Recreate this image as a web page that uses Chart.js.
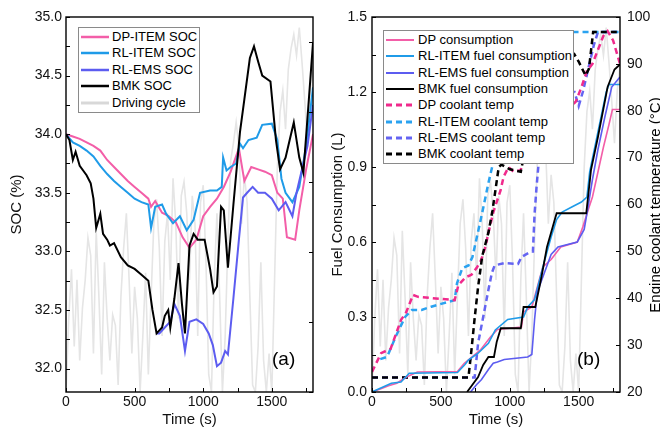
<!DOCTYPE html>
<html>
<head>
<meta charset="utf-8">
<script src="https://cdn.jsdelivr.net/npm/chart.js@4.4.1/dist/chart.umd.min.js"></script>
<style>
body { margin: 0; background: #fff; font-family: "Liberation Sans", Arial, sans-serif; }
#wrap { position: relative; width: 660px; height: 427px; overflow: hidden; }
#cA { position: absolute; left: 0; top: 0; }
#cB { position: absolute; left: 322px; top: 0; }
.legend { position: absolute; box-sizing: border-box; background: #fff; border: 1px solid #8a8a8a; font-size: 13px; color: #000; }
.legend .row { position: absolute; left: 0; height: 16px; line-height: 16px; white-space: nowrap; }
.legend svg { position: absolute; left: 1px; top: 0; }
.legend span { position: absolute; top: 0; }
.tag { position: absolute; font-size: 19px; line-height: 19px; color: #000; }
#rtitle { position: absolute; left: 525px; top: 196px; width: 260px; height: 18px; line-height: 18px; font-size: 15px; text-align: center; transform: rotate(-90deg); color: #000; }
</style>
</head>
<body>
<div id="wrap">
  <canvas id="cA" width="322" height="427"></canvas>
  <canvas id="cB" width="338" height="427"></canvas>
  <div id="legA" class="legend" style="left:78px;top:27px;width:122px;height:86px;"></div>
  <div id="legB" class="legend" style="left:383px;top:30px;width:191px;height:134px;"></div>
  <div class="tag" style="left:272px;top:349px;">(a)</div>
  <div class="tag" style="left:577px;top:349px;">(b)</div>
  <div id="rtitle">Engine coolant temperature (°C)</div>
</div>
<script>
// ---------- axis ticks ----------
const timeTicks = [0, 500, 1000, 1500];
const socTicks = [32.0, 32.5, 33.0, 33.5, 34.0, 34.5, 35.0];
const fuelTicks = [0.0, 0.3, 0.6, 0.9, 1.2, 1.5];
const tempTicks = [20, 30, 40, 50, 60, 70, 80, 90, 100];

// ---------- driving cycle (speed, hidden axis), every 20 s ----------
const tCycle = [0,20,40,60,80,100,120,140,160,180,200,220,240,260,280,300,320,340,360,380,400,420,440,460,480,500,520,540,560,580,600,620,640,660,680,700,720,740,760,780,800,820,840,860,880,900,920,940,960,980,1000,1020,1040,1060,1080,1100,1120,1140,1160,1180,1200,1220,1240,1260,1280,1300,1320,1340,1360,1380,1400,1420,1440,1460,1480,1500,1520,1540,1560,1580,1600,1620,1640,1660,1680,1700,1720,1740,1760,1780,1800];
const speedCycle = [0,21,35,13,32,9,24,32,44,39,11,46,27,5,37,21,9,22,19,2,27,41,51,32,11,30,21,0,16,34,5,27,48,55,41,16,43,51,32,61,48,21,56,60,51,32,56,48,16,54,59,37,5,0,32,51,27,0,16,43,66,71,77,70,48,62,54,27,2,0,13,37,9,0,11,0,32,64,80,86,75,92,98,102,96,104,94,83,71,86,93];

// ---------- panel (a): SOC (%) ----------
const tSocDp = [0,50,100,150,200,250,300,350,400,450,500,550,600,620,650,700,750,800,850,900,950,1000,1050,1100,1150,1200,1260,1300,1350,1400,1450,1500,1540,1580,1610,1670,1700,1750,1800];
const socDp = [34.0,33.98,33.96,33.93,33.9,33.86,33.78,33.72,33.66,33.6,33.55,33.5,33.45,33.38,33.43,33.33,33.3,33.25,33.12,33.03,33.1,33.3,33.38,33.45,33.55,33.68,33.88,33.6,33.72,33.7,33.68,33.65,33.5,33.45,33.12,33.1,33.35,33.7,34.0];

const tSocItem = [0,50,100,150,200,250,300,350,400,450,500,550,600,620,650,700,730,780,830,880,930,977,1050,1100,1135,1145,1170,1200,1240,1268,1290,1330,1390,1430,1500,1540,1570,1600,1650,1700,1750,1800];
const socItem = [34.0,33.93,33.9,33.86,33.81,33.73,33.66,33.6,33.55,33.5,33.45,33.42,33.4,33.2,33.38,33.4,33.32,33.24,33.3,33.18,33.27,33.5,33.52,33.52,33.55,33.8,33.69,33.72,33.75,33.92,33.88,33.95,33.97,34.08,34.09,33.95,33.62,33.5,33.42,33.55,33.9,34.4];

const tSocEms = [660,680,720,760,790,830,867,900,950,1000,1040,1070,1100,1130,1160,1180,1220,1260,1290,1320,1360,1400,1450,1500,1550,1600,1650,1680,1720,1760,1800];
const socEms = [32.3,32.3,32.35,32.4,32.55,32.45,32.15,32.4,32.42,32.38,32.3,32.2,32.02,32.05,32.15,32.12,32.6,33.1,33.46,33.5,33.55,33.5,33.5,33.45,33.35,33.42,33.3,33.5,33.7,33.9,34.25];

const tSocBmk = [0,25,50,70,100,150,180,200,220,250,270,300,320,350,400,450,500,550,600,630,660,700,720,745,760,790,820,845,867,900,930,960,1010,1050,1075,1100,1130,1150,1180,1220,1268,1300,1340,1370,1400,1430,1490,1530,1560,1600,1630,1660,1700,1730,1770,1800];
const socBmk = [34.0,33.95,33.78,33.85,33.73,33.65,33.58,33.45,33.2,33.32,33.15,33.1,33.05,33.07,32.95,32.88,32.85,32.8,32.75,32.5,32.3,32.35,32.45,32.5,32.35,32.6,32.9,32.55,32.3,33.05,33.15,33.1,33.1,32.85,32.65,32.7,33.38,33.35,32.86,33.4,34.02,34.3,34.65,34.75,34.62,34.5,34.45,33.95,33.7,33.8,33.95,34.1,33.8,33.67,34.3,34.78];

// ---------- panel (b): fuel consumption (L) ----------
const tFuelDp = [0,60,120,180,250,330,620,670,790,860,910,1085,1100,1160,1200,1240,1300,1370,1490,1530,1570,1600,1640,1680,1720,1745,1800];
const fuelDp = [0,0.012,0.025,0.035,0.06,0.08,0.082,0.115,0.17,0.22,0.25,0.26,0.32,0.34,0.42,0.5,0.53,0.58,0.6,0.66,0.73,0.78,0.88,0.98,1.07,1.13,1.13];

const tFuelItem = [0,60,140,210,245,270,620,675,700,770,845,895,985,1100,1130,1180,1250,1300,1340,1380,1450,1520,1560,1580,1640,1700,1720,1800];
const fuelItem = [0,0.015,0.035,0.04,0.06,0.075,0.078,0.11,0.128,0.155,0.195,0.248,0.29,0.3,0.34,0.37,0.52,0.62,0.69,0.72,0.74,0.76,0.78,0.88,1.04,1.2,1.23,1.23];

const tFuelEms = [715,760,795,845,880,910,960,1130,1160,1180,1200,1250,1300,1350,1490,1540,1565,1600,1640,1690,1740,1800];
const fuelEms = [0,0.03,0.05,0.09,0.115,0.12,0.13,0.14,0.15,0.29,0.4,0.475,0.55,0.58,0.6,0.65,0.73,0.85,0.97,1.1,1.22,1.26];

const tFuelBmk = [690,770,807,845,885,905,935,1080,1100,1185,1230,1270,1340,1555,1590,1640,1710,1760,1800];
const fuelBmk = [0,0.06,0.108,0.14,0.14,0.2,0.255,0.255,0.34,0.34,0.46,0.58,0.715,0.715,0.89,1.02,1.22,1.29,1.31];

// ---------- panel (b): engine coolant temperature (°C) ----------
const tCoolDp = [0,66,135,211,248,298,335,600,627,680,722,760,790,824,845,882,933,955,991,1027,1079,1100,1300,1480,1520,1560,1600,1640,1680,1710,1750,1800];
const coolDp = [24.3,28.3,29.2,35.4,37,40.7,40.3,39.6,42.8,44.5,45,46.5,48,51,54,58.5,63,65.9,68,67,67.3,70,76,82,85,88.5,90,93,96,97,95,90];

const tCoolItem = [60,110,175,240,290,360,430,600,617,655,700,729,773,809,845,875,910,960,1800];
const coolItem = [27,27.5,32,36,37.5,37.5,38.2,39.6,43.2,46.4,47,48.8,54.6,59.5,64.6,68.4,80,96.8,96.8];

const tCoolEms = [0,745,770,807,845,870,890,960,1060,1085,1155,1168,1180,1195,1210,1300,1400,1470,1500,1530,1570,1610,1640,1800];
const coolEms = [23.1,23.1,30.4,36,41.8,45.4,47,47.5,47.3,48.8,50,50,58,64,69,78,84,84,81,84,89,94,96.8,96.8];

const tCoolBmk = [0,700,722,746,770,800,845,875,920,940,1000,1080,1100,1300,1470,1500,1550,1575,1605,1800];
const coolBmk = [23.1,23.1,29,36,42.4,49,54,58.8,68,68.5,67.5,67,70,85,92,90.5,87.5,89,96.8,96.8];

// ---------- colours ----------
const cPink = '#f35ea8';
const cBlue = '#1f9be8';
const cPurple = '#5c5cf0';
const cBlack = '#000000';
const cGrey = '#e5e5e5';
const cMagenta = '#f02a8c';
const cBlueDash = '#2aa2f0';
const cPurpleDash = '#6464f2';

Chart.defaults.font.family = "'Liberation Sans', Arial, sans-serif";
Chart.defaults.color = '#111';

function pts(t, v) {
    return t.map((x, i) => ({ x: x, y: v[i] }));
}

function series(label, t, v, color, extra) {
    return Object.assign({
        label: label,
        data: pts(t, v),
        borderColor: color,
        backgroundColor: color,
        borderWidth: 2,
        pointRadius: 0,
        tension: 0,
        fill: false
    }, extra || {});
}

// frame round the plot plus inward tick marks, taken from the chart scales
const frameTicks = {
    id: 'frameTicks',
    afterDatasetsDraw(chart, args, opts) {
        const { ctx, chartArea: a } = chart;
        ctx.save();
        ctx.strokeStyle = '#000';
        ctx.lineWidth = 1;
        (opts.marks || []).forEach(m => {
            const s = chart.scales[m.axis];
            const first = Math.ceil(s.min / m.step - 1e-6);
            const last = Math.floor(s.max / m.step + 1e-6);
            for (let k = first; k <= last; k++) {
                const p = Math.round(s.getPixelForValue(k * m.step)) + 0.5;
                ctx.beginPath();
                if (m.side === 'bottom') { ctx.moveTo(p, a.bottom); ctx.lineTo(p, a.bottom - 4); }
                else if (m.side === 'left') { ctx.moveTo(a.left, p); ctx.lineTo(a.left + 4, p); }
                else { ctx.moveTo(a.right, p); ctx.lineTo(a.right - 4, p); }
                ctx.stroke();
            }
        });
        ctx.lineWidth = 1.4;
        ctx.strokeRect(a.left, a.top, a.right - a.left, a.bottom - a.top);
        ctx.restore();
    }
};

function fixedTicks(list) {
    return function (scale) {
        scale.ticks = list.map(v => ({ value: v }));
    };
}

const xAxis = {
    type: 'linear',
    min: 0,
    max: 1800,
    afterBuildTicks: fixedTicks(timeTicks),
    ticks: { font: { size: 14 }, padding: 2, maxRotation: 0, callback: v => String(v) },
    grid: { display: false, drawTicks: false },
    border: { display: false },
    title: { display: true, text: 'Time (s)', font: { size: 15, lineHeight: 1 }, padding: 0 },
    afterFit: s => { s.height = 35; }
};

// ---------- chart (a) ----------
new Chart(document.getElementById('cA'), {
    type: 'line',
    data: {
        datasets: [
            series('BMK SOC', tSocBmk, socBmk, cBlack, { order: 1 }),
            series('RL-EMS SOC', tSocEms, socEms, cPurple, { order: 2 }),
            series('RL-ITEM SOC', tSocItem, socItem, cBlue, { order: 3 }),
            series('DP-ITEM SOC', tSocDp, socDp, cPink, { order: 4 }),
            series('Driving cycle', tCycle, speedCycle, cGrey, { order: 9, borderWidth: 1.6, yAxisID: 'ySpeed' })
        ]
    },
    options: {
        responsive: false,
        animation: false,
        events: [],
        layout: { padding: { top: 17, right: 9, left: 0, bottom: 0 } },
        plugins: {
            legend: { display: false },
            tooltip: { enabled: false },
            frameTicks: {
                marks: [
                    { axis: 'x', step: 250, side: 'bottom' },
                    { axis: 'y', step: 0.25, side: 'left' },
                    { axis: 'ySpeed', step: 20, side: 'right' }
                ]
            }
        },
        scales: {
            x: xAxis,
            y: {
                min: 31.8,
                max: 35.0,
                afterBuildTicks: fixedTicks(socTicks),
                ticks: { font: { size: 14 }, padding: 4, callback: v => v.toFixed(1) },
                grid: { display: false, drawTicks: false },
                border: { display: false },
                title: { display: true, text: 'SOC (%)', font: { size: 15 }, padding: { top: 8, bottom: 0 } },
                afterFit: s => { s.width = 66; }
            },
            ySpeed: { display: false, min: 0, max: 107 }
        }
    },
    plugins: [frameTicks]
});

// ---------- chart (b) ----------
const dash = { borderDash: [6, 4], borderWidth: 2.5, yAxisID: 'yT' };
new Chart(document.getElementById('cB'), {
    type: 'line',
    data: {
        datasets: [
            series('BMK fuel consumption', tFuelBmk, fuelBmk, cBlack, { order: 1, borderWidth: 1.8 }),
            series('RL-EMS fuel consumption', tFuelEms, fuelEms, cPurple, { order: 2, borderWidth: 1.6 }),
            series('RL-ITEM fuel consumption', tFuelItem, fuelItem, cBlue, { order: 3, borderWidth: 1.6 }),
            series('DP consumption', tFuelDp, fuelDp, cPink, { order: 4, borderWidth: 1.6 }),
            series('BMK coolant temp', tCoolBmk, coolBmk, cBlack, Object.assign({ order: 5 }, dash)),
            series('DP coolant temp', tCoolDp, coolDp, cMagenta, Object.assign({ order: 6 }, dash)),
            series('RL-ITEM coolant temp', tCoolItem, coolItem, cBlueDash, Object.assign({ order: 7 }, dash)),
            series('RL-EMS coolant temp', tCoolEms, coolEms, cPurpleDash, Object.assign({ order: 8 }, dash)),
            series('Driving cycle', tCycle, speedCycle, cGrey, { order: 9, borderWidth: 1.6, yAxisID: 'ySpeed' })
        ]
    },
    options: {
        responsive: false,
        animation: false,
        events: [],
        layout: { padding: { top: 17, right: 0, left: 0, bottom: 0 } },
        plugins: {
            legend: { display: false },
            tooltip: { enabled: false },
            frameTicks: {
                marks: [
                    { axis: 'x', step: 250, side: 'bottom' },
                    { axis: 'y', step: 0.15, side: 'left' },
                    { axis: 'yT', step: 10, side: 'right' }
                ]
            }
        },
        scales: {
            x: xAxis,
            y: {
                min: 0,
                max: 1.5,
                afterBuildTicks: fixedTicks(fuelTicks),
                ticks: { font: { size: 14 }, padding: 5, callback: v => v.toFixed(1) },
                grid: { display: false, drawTicks: false },
                border: { display: false },
                title: { display: true, text: 'Fuel Consumption (L)', font: { size: 15 }, padding: { top: 7, bottom: 0 } },
                afterFit: s => { s.width = 50; }
            },
            yT: {
                position: 'right',
                min: 20,
                max: 100,
                afterBuildTicks: fixedTicks(tempTicks),
                ticks: { font: { size: 14 }, padding: 7 },
                grid: { display: false, drawTicks: false },
                border: { display: false },
                afterFit: s => { s.width = 40; }
            },
            ySpeed: { display: false, min: 0, max: 107 }
        }
    },
    plugins: [frameTicks]
});

// ---------- HTML legends ----------
const legendA = [
    { label: 'DP-ITEM SOC', color: cPink, width: 2.5 },
    { label: 'RL-ITEM SOC', color: cBlue, width: 2.5 },
    { label: 'RL-EMS SOC', color: cPurple, width: 2.5 },
    { label: 'BMK SOC', color: cBlack, width: 2.5 },
    { label: 'Driving cycle', color: '#d8d8d8', width: 3 }
];
const legendB = [
    { label: 'DP consumption', color: cPink, width: 2 },
    { label: 'RL-ITEM fuel consumption', color: cBlue, width: 2 },
    { label: 'RL-EMS fuel consumption', color: cPurple, width: 2 },
    { label: 'BMK fuel consumption', color: cBlack, width: 2 },
    { label: 'DP coolant temp', color: cMagenta, width: 3, dash: '6 4' },
    { label: 'RL-ITEM coolant temp', color: cBlueDash, width: 3, dash: '6 4' },
    { label: 'RL-EMS coolant temp', color: cPurpleDash, width: 3, dash: '6 4' },
    { label: 'BMK coolant temp', color: cBlack, width: 3, dash: '6 4' }
];

function buildLegend(id, items, firstRow, rowGap, textLeft) {
    const box = document.getElementById(id);
    items.forEach((it, i) => {
        const row = document.createElement('div');
        row.className = 'row';
        row.style.top = (firstRow + i * rowGap - 8) + 'px';
        row.style.width = '100%';
        const dashAttr = it.dash ? ' stroke-dasharray="' + it.dash + '"' : '';
        row.innerHTML = '<svg width="30" height="16"><line x1="1" y1="8" x2="29" y2="8" stroke="' + it.color +
            '" stroke-width="' + it.width + '"' + dashAttr + '/></svg>' +
            '<span style="left:' + textLeft + 'px">' + it.label + '</span>';
        box.appendChild(row);
    });
}
buildLegend('legA', legendA, 9, 16.4, 33);
buildLegend('legB', legendB, 9, 16.3, 34);
</script>
</body>
</html>
